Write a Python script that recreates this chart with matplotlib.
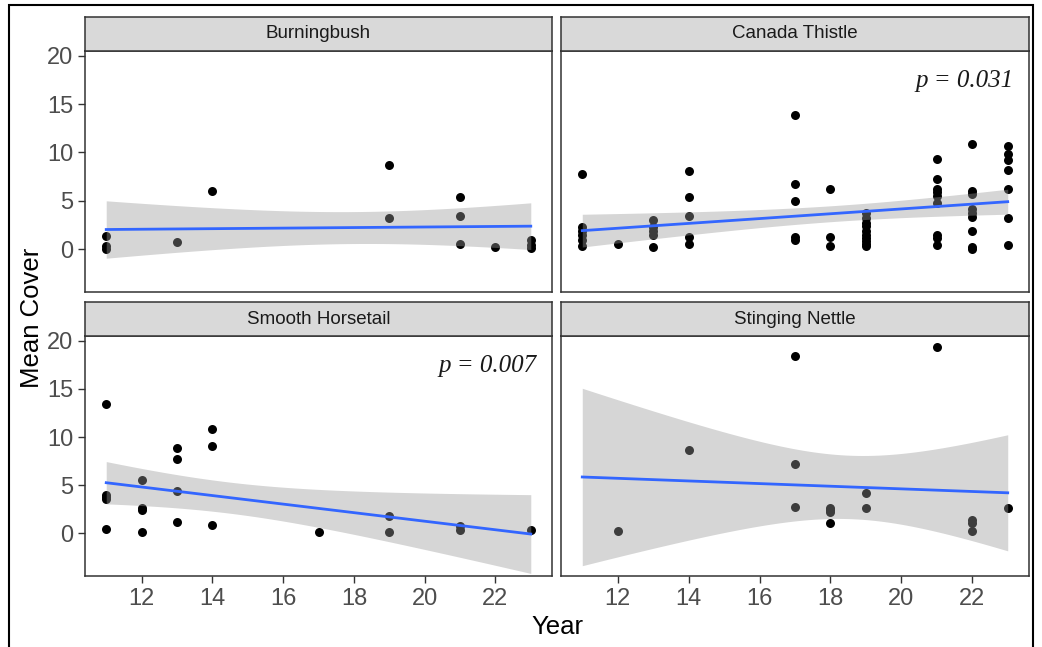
import matplotlib
matplotlib.use('Agg')
import matplotlib.pyplot as plt
from matplotlib.patches import Rectangle
import numpy as np

species = ['Burningbush', 'Canada Thistle', 'Smooth Horsetail', 'Stinging Nettle']
p_labels = [None, 'p = 0.031', 'p = 0.007', None]

bb_year = [11, 11, 11, 13, 14, 19, 19, 21, 21, 21, 22, 23, 23, 23]
bb_cover = [1.3, 0.3, 0.0, 0.7, 6.0, 8.7, 3.2, 5.4, 3.4, 0.5, 0.2, 0.9, 0.4, 0.1]

ct_year = [11] * 6 + [12] + [13] * 5 + [14] * 5 + [17] * 5 + [18] * 3 + [19] * 10 + [21] * 9 + [22] * 9 + [23] * 7
ct_cover = [7.8, 2.3, 1.9, 1.4, 0.9, 0.3,
            0.5,
            3.0, 2.3, 1.9, 1.5, 0.2,
            8.1, 5.4, 3.4, 1.2, 0.5,
            13.9, 6.7, 5.0, 1.2, 0.9,
            6.2, 1.2, 0.3,
            3.7, 3.2, 2.7, 2.4, 1.9, 1.5, 1.1, 0.8, 0.5, 0.3,
            9.3, 7.3, 6.2, 5.9, 5.5, 4.8, 1.4, 1.1, 0.4,
            10.9, 6.0, 5.7, 4.1, 3.7, 3.3, 1.9, 0.2, 0.0,
            10.7, 9.8, 9.2, 8.2, 6.2, 3.2, 0.4]

sh_year = [11] * 5 + [12] * 4 + [13] * 4 + [14] * 3 + [17] + [19] * 2 + [21] * 2 + [23]
sh_cover = [13.4, 4.0, 3.8, 3.6, 0.4,
            5.5, 2.6, 2.4, 0.1,
            8.9, 7.7, 4.4, 1.2,
            10.8, 9.1, 0.9,
            0.1,
            1.8, 0.1,
            0.7, 0.3,
            0.3]

sn_year = [12, 14, 17, 17, 17, 18, 18, 18, 18, 19, 19, 21, 22, 22, 22, 23]
sn_cover = [0.2, 8.6, 18.4, 7.2, 2.7, 2.6, 2.4, 2.2, 1.1, 4.2, 2.6, 19.4, 1.4, 1.1, 0.2, 2.6]

years = [bb_year, ct_year, sh_year, sn_year]
covers = [bb_cover, ct_cover, sh_cover, sn_cover]

x_ticks = [12, 14, 16, 18, 20, 22]
y_ticks = [0, 5, 10, 15, 20]


def t_quantile(df, z=1.959964):
    # Cornish-Fisher approximation of the 97.5% t quantile
    return (z + (z**3 + z) / (4 * df) + (5 * z**5 + 16 * z**3 + 3 * z) / (96 * df**2)
            + (3 * z**7 + 19 * z**5 + 17 * z**3 - 15 * z) / (384 * df**3))


def lm_fit(x, y, x_min, x_max):
    x = np.asarray(x, float)
    y = np.asarray(y, float)
    n = len(x)
    b, a = np.polyfit(x, y, 1)
    resid = y - (a + b * x)
    s = np.sqrt(np.sum(resid**2) / (n - 2))
    sxx = np.sum((x - x.mean())**2)
    xs = np.linspace(x_min, x_max, 80)
    fit = a + b * xs
    se = s * np.sqrt(1 / n + (xs - x.mean())**2 / sxx)
    t = t_quantile(n - 2)
    return xs, fit, fit - t * se, fit + t * se


all_years = sum(years, [])
yr_min, yr_max = min(all_years), max(all_years)

W, H = 1042, 647
fig = plt.figure(figsize=(W / 100, H / 100), dpi=100)

cols = [(85, 552), (561, 1029)]
rows = [(17, 51, 292), (302, 336, 576)]

for i, name in enumerate(species):
    r, c = divmod(i, 2)
    x0, x1 = cols[c]
    s0, p0, p1 = rows[r]
    ax = fig.add_axes([x0 / W, 1 - p1 / H, (x1 - x0) / W, (p1 - p0) / H])
    sax = fig.add_axes([x0 / W, 1 - p0 / H, (x1 - x0) / W, (p0 - s0) / H])

    ax.scatter(years[i], covers[i], s=42, color='black', linewidths=0, zorder=2)
    xs, fit, lo, hi = lm_fit(years[i], covers[i], yr_min, yr_max)
    ax.fill_between(xs, lo, hi, color='#999999', alpha=0.4, linewidth=0, zorder=3)
    ax.plot(xs, fit, color='#3366FF', lw=2, zorder=4)

    ax.set_xlim(10.4, 23.6)
    ax.set_ylim(-4.45, 20.5)
    ax.set_xticks(x_ticks)
    ax.set_yticks(y_ticks)
    ax.tick_params(colors='#333333', labelcolor='#4D4D4D', labelsize=17,
                   length=5, width=1, labelfontfamily='Liberation Sans')
    if r == 0:
        ax.tick_params(axis='x', bottom=False, labelbottom=False)
    if c == 1:
        ax.tick_params(axis='y', left=False, labelleft=False)
    for sp in ax.spines.values():
        sp.set_color('#333333')
        sp.set_linewidth(1.1)

    if p_labels[i]:
        ax.text(0.968, 0.875, p_labels[i], transform=ax.transAxes, ha='right', va='center',
                fontsize=18, style='italic', family='Liberation Serif', color='#1A1A1A')

    sax.set_facecolor('#D9D9D9')
    sax.set_xticks([])
    sax.set_yticks([])
    for sp in sax.spines.values():
        sp.set_color('#333333')
        sp.set_linewidth(1.1)
    sax.text(0.5, 0.5, name, transform=sax.transAxes, ha='center', va='center',
             fontsize=13.5, color='#1A1A1A', family='Liberation Sans')

fig.text(32 / W, 1 - 318 / H, 'Mean Cover', rotation=90, ha='center', va='center',
         fontsize=18.5, family='Liberation Sans')
fig.text(557 / W, 1 - 627 / H, 'Year', ha='center', va='center',
         fontsize=18.5, family='Liberation Sans')

fig.patches.append(Rectangle((9 / W, -0.01), (1033 - 9) / W, 1 - 5 / H + 0.01,
                             transform=fig.transFigure, fill=False,
                             edgecolor='black', lw=1.5))

fig.savefig('out.png', dpi=100)
